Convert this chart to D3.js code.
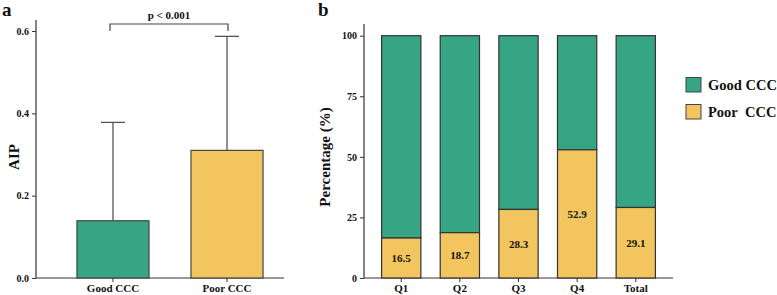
<!DOCTYPE html>
<html><head><meta charset="utf-8">
<script src="https://cdn.jsdelivr.net/npm/d3@7"></script>
<style>body{margin:0;background:#fff}svg{display:block}text{font-family:'Liberation Serif',serif !important;font-weight:bold;fill:#111}</style>
</head><body><svg id="c" width="777" height="295"></svg>
<script>
// Panel a data
const groupsA = ["Good CCC", "Poor CCC"];
const meanA = [0.139, 0.310];
const upperA = [0.378, 0.587];
const ticksA = [0.0, 0.2, 0.4, 0.6];
const pLabel = "p < 0.001";
// Panel b data
const catsB = ["Q1", "Q2", "Q3", "Q4", "Total"];
const poorB = [16.5, 18.7, 28.3, 52.9, 29.1];
const goodB = [83.5, 81.3, 71.7, 47.1, 70.9];
const ticksB = [0, 25, 50, 75, 100];
const legendLabels = ["Good CCC", "Poor\u00a0\u00a0CCC"];
const GREEN = "#35a583", YELLOW = "#f2c55f";

const svg = d3.select("#c");

// ---------- Panel a ----------
const ya = d3.scaleLinear().domain([0, 0.6]).range([278, 31]);
const xa = d3.scaleBand().domain(groupsA).range([48, 292]).paddingInner(0.368).paddingOuter(0.254);
const ga = svg.append("g");
const axA = ga.append("g").attr("transform","translate(36,0)")
  .call(d3.axisLeft(ya).tickValues(ticksA).tickFormat(d3.format(".1f")).tickSize(4).tickPadding(3).tickSizeOuter(0));
axA.select(".domain").remove();
axA.selectAll("line").attr("stroke","#333");
axA.selectAll("text").attr("font-size",10);
ga.append("line").attr("x1",36).attr("x2",36).attr("y1",20).attr("y2",278).attr("stroke","#333").attr("stroke-width",1.2);
ga.append("line").attr("x1",36).attr("x2",284).attr("y1",278).attr("y2",278).attr("stroke","#333").attr("stroke-width",1.2);
// error bars (behind bars)
groupsA.forEach((g,i)=>{
  const cx = xa(g) + xa.bandwidth()/2;
  ga.append("line").attr("x1",cx).attr("x2",cx).attr("y1",ya(meanA[i])).attr("y2",ya(upperA[i])).attr("stroke","#555").attr("stroke-width",1.3);
  ga.append("line").attr("x1",cx-12).attr("x2",cx+12).attr("y1",ya(upperA[i])).attr("y2",ya(upperA[i])).attr("stroke","#555").attr("stroke-width",1.3);
});
ga.selectAll("rect.a").data(groupsA).join("rect")
  .attr("x",d=>xa(d)).attr("width",xa.bandwidth())
  .attr("y",(d,i)=>ya(meanA[i])).attr("height",(d,i)=>ya(0)-ya(meanA[i]))
  .attr("fill",(d,i)=>i===0?GREEN:YELLOW).attr("stroke","#444").attr("stroke-width",1.2);
groupsA.forEach((g)=>{
  const cx = xa(g)+xa.bandwidth()/2;
  ga.append("line").attr("x1",cx).attr("x2",cx).attr("y1",278).attr("y2",282).attr("stroke","#333");
  ga.append("text").attr("x",cx).attr("y",292).attr("text-anchor","middle").attr("font-size",11).text(g);
});
// bracket
const bx1 = xa(groupsA[0])+xa.bandwidth()/2 - 3, bx2 = xa(groupsA[1])+xa.bandwidth()/2 + 1;
ga.append("path").attr("d",`M${bx1},31V24H${bx2}V31`).attr("fill","none").attr("stroke","#444").attr("stroke-width",1.2);
ga.append("text").attr("x",(bx1+bx2)/2).attr("y",19).attr("text-anchor","middle").attr("font-size",11).text(pLabel);
ga.append("text").attr("transform","translate(19,157) rotate(-90)").attr("text-anchor","middle").attr("font-size",15).text("AIP");
svg.append("text").attr("x",2).attr("y",16).attr("font-size",19).text("a");

// ---------- Panel b ----------
const yb = d3.scaleLinear().domain([0,100]).range([278,35.7]);
const xb = d3.scaleBand().domain(catsB).range([364,673]).paddingInner(0.33).paddingOuter(0.3);
const gb = svg.append("g");
const axB = gb.append("g").attr("transform","translate(364,0)")
  .call(d3.axisLeft(yb).tickValues(ticksB).tickSize(4).tickPadding(3).tickSizeOuter(0));
axB.select(".domain").remove();
axB.selectAll("line").attr("stroke","#333");
axB.selectAll("text").attr("font-size",10);
gb.append("line").attr("x1",364).attr("x2",364).attr("y1",24).attr("y2",278).attr("stroke","#333").attr("stroke-width",1.2);
gb.append("line").attr("x1",364).attr("x2",673).attr("y1",278).attr("y2",278).attr("stroke","#333").attr("stroke-width",1.2);
gb.selectAll("rect.good").data(catsB).join("rect").attr("class","good")
  .attr("x",d=>xb(d)).attr("width",xb.bandwidth())
  .attr("y",(d,i)=>yb(poorB[i]+goodB[i])).attr("height",(d,i)=>yb(poorB[i])-yb(poorB[i]+goodB[i]))
  .attr("fill",GREEN).attr("stroke","#333").attr("stroke-width",1.2);
gb.selectAll("rect.poor").data(catsB).join("rect").attr("class","poor")
  .attr("x",d=>xb(d)).attr("width",xb.bandwidth())
  .attr("y",(d,i)=>yb(poorB[i])).attr("height",(d,i)=>yb(0)-yb(poorB[i]))
  .attr("fill",YELLOW).attr("stroke","#333").attr("stroke-width",1.2);
gb.selectAll("text.val").data(catsB).join("text").attr("class","val")
  .attr("x",d=>xb(d)+xb.bandwidth()/2).attr("y",(d,i)=>yb(poorB[i]/2)+4)
  .attr("text-anchor","middle").attr("font-size",11).text((d,i)=>poorB[i].toFixed(1));
catsB.forEach(c=>{
  const cx = xb(c)+xb.bandwidth()/2;
  gb.append("line").attr("x1",cx).attr("x2",cx).attr("y1",278).attr("y2",282).attr("stroke","#333");
  gb.append("text").attr("x",cx).attr("y",292).attr("text-anchor","middle").attr("font-size",11).text(c);
});
gb.append("text").attr("transform","translate(330,157) rotate(-90)").attr("text-anchor","middle").attr("font-size",15).text("Percentage (%)");
svg.append("text").attr("x",318).attr("y",16).attr("font-size",19).text("b");

// legend
const lg = svg.append("g");
[GREEN, YELLOW].forEach((col,i)=>{
  lg.append("rect").attr("x",686).attr("y",77.5+i*27).attr("width",15).attr("height",14.5).attr("fill",col).attr("stroke","#444").attr("stroke-width",1);
  lg.append("text").attr("x",708).attr("y",90+i*27).attr("font-size",14.5).text(legendLabels[i]);
});
</script></body></html>
